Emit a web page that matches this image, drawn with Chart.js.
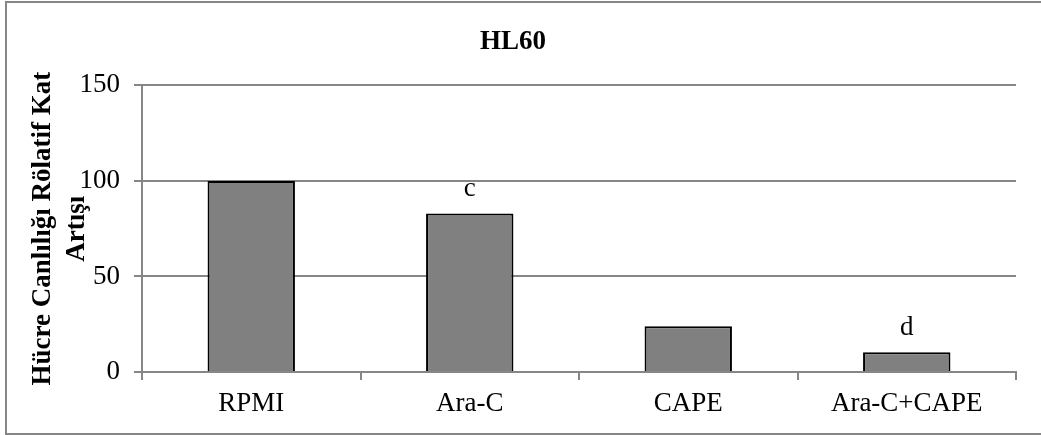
<!DOCTYPE html>
<html>
<head>
<meta charset="utf-8">
<script src="https://cdn.jsdelivr.net/npm/chart.js@4/dist/chart.umd.min.js"></script>
<style>
  html, body { margin: 0; padding: 0; background: #fff; }
  #wrap { width: 1041px; height: 435px; }
</style>
</head>
<body>
<div id="wrap"><canvas id="myChart" width="1041" height="435"></canvas></div>
<script>
var categories = ["RPMI", "Ara-C", "CAPE", "Ara-C+CAPE"];
var values = [100, 83, 24, 10.3];
var letters = ["", "c", "", "d"];
var yTicks = [0, 50, 100, 150];

var serif = "'Liberation Serif', 'Times New Roman', serif";
var gray = '#868686';

// outer frame of the chart (no right edge visible in the picture)
var framePlugin = {
    id: 'frame',
    beforeDraw: function(chart) {
        var ctx = chart.ctx;
        ctx.save();
        ctx.strokeStyle = gray;
        ctx.lineWidth = 2;
        ctx.beginPath();
        ctx.moveTo(1041, 2);
        ctx.lineTo(6, 2);
        ctx.lineTo(6, 434);
        ctx.lineTo(1041, 434);
        ctx.stroke();
        ctx.restore();
    }
};

// significance letters above bars
var letterPlugin = {
    id: 'letters',
    afterDatasetsDraw: function(chart) {
        var ctx = chart.ctx;
        var meta = chart.getDatasetMeta(0);
        ctx.save();
        ctx.font = '27px ' + serif;
        ctx.fillStyle = '#000';
        ctx.textAlign = 'center';
        ctx.textBaseline = 'alphabetic';
        meta.data.forEach(function(bar, i) {
            if (letters[i]) ctx.fillText(letters[i], bar.x, bar.y - 17);
        });
        ctx.restore();
    }
};

var ctx = document.getElementById('myChart').getContext('2d');
var chart = new Chart(ctx, {
    type: 'bar',
    data: {
        labels: categories,
        datasets: [{
            data: values,
            backgroundColor: '#808080',
            borderColor: '#000000',
            borderWidth: 2,
            barPercentage: 0.4,
            categoryPercentage: 1.0
        }]
    },
    options: {
        responsive: false,
        animation: false,
        layout: { padding: { left: 10, right: 25, top: 0, bottom: 0 } },
        plugins: {
            legend: { display: false },
            tooltip: { enabled: false },
            title: {
                display: true,
                text: 'HL60',
                color: '#000',
                font: { family: serif, size: 27, weight: 'bold', lineHeight: 1.2 },
                padding: { top: 26, bottom: 27 }
            }
        },
        scales: {
            x: {
                grid: {
                    offset: true,
                    drawOnChartArea: false,
                    color: gray,
                    lineWidth: 2,
                    tickLength: 8
                },
                border: { display: true, color: gray, width: 2 },
                ticks: {
                    color: '#000',
                    font: { family: serif, size: 27 },
                    padding: 8,
                    maxRotation: 0
                },
                afterFit: function(s) { s.height = 63; }
            },
            y: {
                min: 0,
                max: 150,
                afterBuildTicks: function(s) {
                    s.ticks = yTicks.map(function(v) { return { value: v }; });
                },
                grid: { color: gray, lineWidth: 2, tickLength: 8 },
                border: { display: true, color: gray, width: 2 },
                ticks: {
                    color: '#000',
                    font: { family: serif, size: 27 },
                    padding: 14
                },
                title: {
                    display: true,
                    text: ['Hücre Canlılığı Rölatif Kat', 'Artışı'],
                    color: '#000',
                    font: { family: serif, size: 27, weight: 'bold', lineHeight: 1.25 },
                    padding: { top: 16, bottom: 0 }
                },
                afterFit: function(s) { s.width = 132; }
            }
        }
    },
    plugins: [framePlugin, letterPlugin]
});
</script>
</body>
</html>
